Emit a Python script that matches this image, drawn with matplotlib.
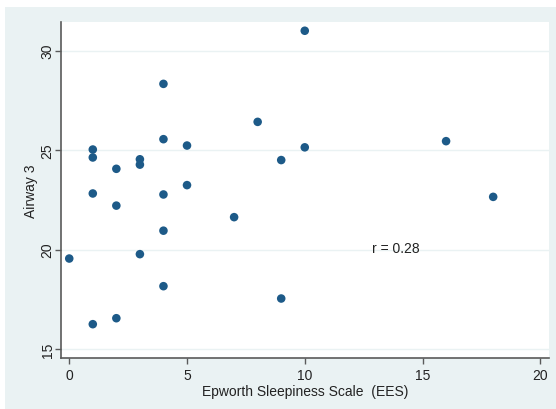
import matplotlib
matplotlib.use('Agg')
import matplotlib.pyplot as plt
from matplotlib.patches import Rectangle

plt.rcParams['font.family'] = ['Liberation Sans', 'DejaVu Sans']

# Epworth score vs airway measurement
ees = [0, 1, 1, 1, 1, 2, 2, 2, 3, 3, 3, 4, 4, 4, 4, 4, 5, 5, 7, 8, 9, 9, 10, 10, 16, 18]
airway3 = [19.55, 25.03, 24.63, 22.82, 16.25, 24.06, 22.21, 16.55, 24.54, 24.27, 19.77,
           28.33, 25.55, 22.77, 20.95, 18.16, 25.23, 23.24, 21.63, 26.42, 24.5, 17.54,
           31.0, 25.14, 25.45, 22.65]
x_ticks = [0, 5, 10, 15, 20]
y_ticks = [15, 20, 25, 30]
r_text = 'r = 0.28'

bg = '#eaf2f3'
navy = '#1d5a88'
axis_col = '#5a5a5a'
txt = '#222222'
fs = 10

W, H = 556, 410
fig = plt.figure(figsize=(W / 100, H / 100), dpi=100)
fig.patch.set_facecolor('white')
fig.patches.append(Rectangle((5 / W, 0), 1 - 5 / W, (H - 8) / H,
                             transform=fig.transFigure, facecolor=bg,
                             edgecolor='none', zorder=-10))

ax = fig.add_axes([61 / W, (H - 359) / H, (549 - 61) / W, (359 - 23) / H])
ax.set_facecolor('white')

ax.scatter(ees, airway3, s=38, color=navy, edgecolors='none', zorder=3)

ax.set_xlim(-0.35, 20.37)
ax.set_ylim(14.55, 31.44)
ax.set_xticks(x_ticks)
ax.set_yticks(y_ticks)

for y in y_ticks:
    ax.axhline(y, color=bg, lw=1.0, zorder=1)

for side in ('top', 'right'):
    ax.spines[side].set_visible(False)
for side in ('left', 'bottom'):
    ax.spines[side].set_color(axis_col)
    ax.spines[side].set_linewidth(1.2)

ax.tick_params(axis='both', direction='out', length=4, width=1, color=axis_col,
               labelsize=fs, labelcolor=txt)
ax.tick_params(axis='x', pad=3)
ax.tick_params(axis='y', pad=0.5)
for lab in ax.get_yticklabels():
    lab.set_rotation(90)
    lab.set_va('center')

ax.set_xlabel('Epworth Sleepiness Scale  (EES)', fontsize=fs, color=txt, labelpad=2)
ax.set_ylabel('Airway 3', fontsize=fs, color=txt, labelpad=2)

ax.text(12.85, 20.07, r_text, fontsize=fs, color=txt, ha='left', va='center')

fig.savefig('out.png', dpi=100)
